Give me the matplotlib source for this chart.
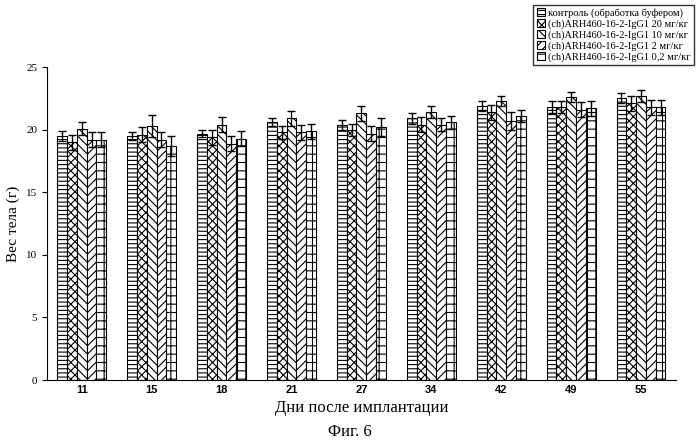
import numpy as np
import matplotlib.pyplot as plt

plt.rcParams.update({'font.family': 'Liberation Serif', 'hatch.linewidth': 0.8})

days = ['11', '15', '18', '21', '27', '34', '42', '49', '55']
labels = ['контроль (обработка буфером)',
          '(ch)ARH460-16-2-IgG1 20 мг/кг',
          '(ch)ARH460-16-2-IgG1 10 мг/кг',
          '(ch)ARH460-16-2-IgG1 2 мг/кг',
          '(ch)ARH460-16-2-IgG1 0,2 мг/кг']
control = [19.5, 19.5, 19.7, 20.6, 20.4, 20.9, 21.9, 21.8, 22.5]
dose20 = [19.0, 19.6, 19.4, 19.8, 20.0, 20.4, 21.4, 21.8, 22.1]
dose10 = [20.1, 20.3, 20.4, 20.9, 21.3, 21.4, 22.3, 22.6, 22.7]
dose2 = [19.2, 19.2, 18.9, 19.8, 19.7, 20.4, 20.7, 21.6, 21.8]
dose02 = [19.2, 18.7, 19.3, 19.9, 20.2, 20.6, 21.1, 21.7, 21.8]
err_control = [0.4, 0.3, 0.3, 0.3, 0.4, 0.4, 0.4, 0.5, 0.4]
err20 = [0.6, 0.6, 0.6, 0.5, 0.5, 0.6, 0.6, 0.5, 0.6]
err10 = [0.5, 0.9, 0.6, 0.6, 0.6, 0.5, 0.4, 0.4, 0.5]
err2 = [0.6, 0.6, 0.6, 0.6, 0.6, 0.5, 0.7, 0.6, 0.6]
err02 = [0.6, 0.8, 0.6, 0.6, 0.7, 0.5, 0.5, 0.6, 0.6]

series = [control, dose20, dose10, dose2, dose02]
errors = [err_control, err20, err10, err2, err02]
hatches = ['----', 'xxxx', '\\\\\\\\', '////', '++']

fig = plt.figure(figsize=(6.99, 4.45), dpi=100)
ax = fig.add_axes([0.067, 0.146, 0.90, 0.703])
x = np.arange(len(days))
w = 0.14
for i, (vals, errs) in enumerate(zip(series, errors)):
    ax.bar(x + (i - 2) * w, vals, w, yerr=errs, color='white', edgecolor='black',
           hatch=hatches[i], linewidth=0.8, label=labels[i],
           error_kw=dict(ecolor='black', elinewidth=1, capsize=3, capthick=1))

ax.set_xlim(-0.5, len(days) - 0.5)
ax.set_ylim(0, 25)
ax.set_yticks(range(0, 26, 5))
ax.set_xticks(x)
ax.set_xticklabels(days, fontsize=8, fontweight='bold', fontfamily='Liberation Sans')
ax.tick_params(axis='y', labelsize=8)
ax.tick_params(axis='x', length=0)
ax.spines['top'].set_visible(False)
ax.spines['right'].set_visible(False)
ax.set_ylabel('Вес тела (г)', fontsize=11)
ax.set_xlabel('Дни после имплантации', fontsize=12)
ax.legend(loc='upper right', bbox_to_anchor=(1.0, 1.0), bbox_transform=fig.transFigure,
          fontsize=7.5, frameon=True, fancybox=False, edgecolor='black',
          handlelength=0.8, handleheight=0.8, handletextpad=0.3, borderpad=0.3,
          labelspacing=0.1)
fig.text(0.5, 0.02, 'Фиг. 6', ha='center', fontsize=12)
fig.savefig('out.png', dpi=100)
